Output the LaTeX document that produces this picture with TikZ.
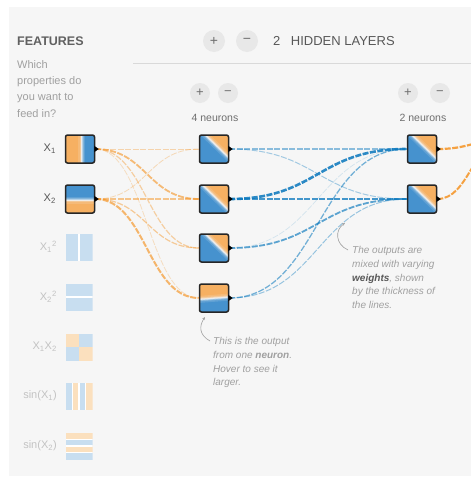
\documentclass[tikz,border=0pt]{standalone}
\usepackage{fontspec}
\setmainfont{Liberation Sans}
\usetikzlibrary{arrows.meta,calc}
\definecolor{pgO}{RGB}{246,176,98}
\definecolor{pgB}{RGB}{70,146,206}
\definecolor{pgW}{RGB}{242,244,246}
\definecolor{lO}{RGB}{251,224,190}
\definecolor{lB}{RGB}{200,222,240}
\definecolor{linkO}{RGB}{245,147,34}
\definecolor{linkB}{RGB}{8,119,189}
\definecolor{panel}{RGB}{246,246,246}
\definecolor{txtdark}{RGB}{88,88,88}
\definecolor{txtmid}{RGB}{110,110,110}
\definecolor{txtlight}{RGB}{160,160,160}
\definecolor{txtfade}{RGB}{195,195,195}
\definecolor{btngray}{RGB}{232,232,232}
\newcommand\pgcorners{\path (path picture bounding box.north west) coordinate (pNW)
  (path picture bounding box.north east) coordinate (pNE)
  (path picture bounding box.south west) coordinate (pSW)
  (path picture bounding box.south east) coordinate (pSE);}
\newcommand\softband{\foreach \w/\o in {7/.15,4/.25,2.2/.45,1/.75}{%
  \draw[pgW, line width=\w pt, opacity=\o] ($(sa)!-0.6!(sb)$) -- ($(sb)!-0.6!(sa)$);}}
\begin{document}
\begin{tikzpicture}[x=1pt,y=-1pt,
  nbox/.style={draw=black!85, line width=1.5pt, rounded corners=2pt, minimum width=29pt, minimum height=28pt, inner sep=0pt},
  fbox/.style={minimum width=27pt, minimum height=27pt, inner sep=0pt},
  colsplit/.style={path picture={\pgcorners
     \fill[pgO] (pSW) rectangle (pNE);
     \coordinate (sa) at ($(pSW)!#1!(pSE)$); \coordinate (sb) at ($(pNW)!#1!(pNE)$);
     \fill[pgB] (sa) rectangle (pNE); \softband}},
  rowsplit/.style={path picture={\pgcorners
     \fill[pgO] (pSW) rectangle (pNE);
     \coordinate (sa) at ($(pNW)!#1!(pSW)$); \coordinate (sb) at ($(pNE)!#1!(pSE)$);
     \fill[pgB] (pNW) rectangle (sb); \softband}},
  diagsplit/.style 2 args={path picture={\pgcorners
     \fill[pgB] (pSW) rectangle (pNE);
     \coordinate (sa) at ($(pNW)!#1!(pNE)$); \coordinate (sb) at ($(pNE)!#2!(pSE)$);
     \fill[pgO] (sa) -- (pNE) -- (sb) -- cycle; \softband}},
  tbsplit/.style 2 args={path picture={\pgcorners
     \fill[pgB] (pSW) rectangle (pNE);
     \coordinate (sa) at ($(pNW)!#1!(pSW)$); \coordinate (sb) at ($(pNE)!#2!(pSE)$);
     \fill[pgO] (pNW) -- (pNE) -- (sb) -- (sa) -- cycle; \softband}},
  fcol/.style={path picture={\pgcorners
     \fill[lB] (pSW) rectangle (pNE);
     \draw[white, line width=2pt] ($(pSW)!.5!(pSE)$) -- ($(pNW)!.5!(pNE)$);}},
  frow/.style={path picture={\pgcorners
     \fill[lB] (pSW) rectangle (pNE);
     \draw[white, line width=2pt] ($(pSW)!.5!(pNW)$) -- ($(pSE)!.5!(pNE)$);}},
  fcheck/.style={path picture={\pgcorners
     \fill[lO] (pNW) rectangle (path picture bounding box.center);
     \fill[lB] (path picture bounding box.north) rectangle (path picture bounding box.east);
     \fill[lB] (path picture bounding box.west) rectangle (path picture bounding box.south);
     \fill[lO] (path picture bounding box.center) rectangle (pSE);}},
  fsinv/.style={path picture={\pgcorners
     \foreach \a/\b/\c in {0/.25/lB,.25/.5/lO,.5/.75/lB,.75/1/lO}
       {\fill[\c] ($(pSW)!\a!(pSE)$) rectangle ($(pNW)!\b!(pNE)$);}
     \foreach \a in {.25,.5,.75}
       {\draw[white, line width=1.2pt] ($(pSW)!\a!(pSE)$) -- ($(pNW)!\a!(pNE)$);}}},
  fsinh/.style={path picture={\pgcorners
     \foreach \a/\b/\c in {0/.25/lO,.25/.5/lB,.5/.75/lO,.75/1/lB}
       {\fill[\c] ($(pNW)!\a!(pSW)$) rectangle ($(pNE)!\b!(pSE)$);}
     \foreach \a in {.25,.5,.75}
       {\draw[white, line width=1.2pt] ($(pNW)!\a!(pSW)$) -- ($(pNE)!\a!(pSE)$);}}},
  lbl/.style={anchor=east, inner sep=0pt, text=txtdark, font=\fontsize{11}{13}\selectfont},
  flbl/.style={anchor=east, inner sep=0pt, text=txtfade, font=\fontsize{11}{13}\selectfont},
  btn/.style={circle, fill=btngray, minimum size=22pt, inner sep=0pt, text=txtmid, font=\fontsize{14}{14}\selectfont},
  sbtn/.style={circle, fill=btngray, minimum size=20pt, inner sep=0pt, text=txtmid, font=\fontsize{13}{13}\selectfont},
  olink/.style={draw=linkO, dash pattern=on 6pt off 1.5pt},
  blink/.style={draw=linkB, dash pattern=on 6pt off 1.5pt},
  note/.style={anchor=north west, align=left, inner sep=0pt, text=txtlight, font=\fontsize{10}{13.8}\selectfont\itshape},
  callout/.style={draw=txtlight, line width=0.6pt, -{Stealth[length=3pt,width=2.5pt]}}
]
\useasboundingbox (0,0) rectangle (471,477);
\fill[white] (0,0) rectangle (471,477);
\fill[panel] (9,7) rectangle (471,476);

% header
\node[anchor=west, inner sep=0pt, text=black!62, font=\fontsize{12.5}{15}\selectfont\bfseries] (feat) at (17,41) {FEATURES};
\node[anchor=north west, align=left, inner sep=0pt, text=txtlight, font=\fontsize{11}{16.3}\selectfont] (which) at (17,60) {Which\\properties do\\you want to\\feed in?};
\draw[draw=black!15, line width=0.8pt] (133,63) -- (471,63);
\node[btn] (addlayer) at (214,41) {+};
\node[btn] (remlayer) at (247,41) {−};
\node[anchor=west, inner sep=0pt, text=txtdark, font=\fontsize{13}{15}\selectfont] (hidden) at (273,41) {2\hspace{10.5pt}HIDDEN LAYERS};
\node[sbtn] (addA) at (200,93) {+};
\node[sbtn] (remA) at (228,93) {−};
\node[sbtn] (addB) at (408,93) {+};
\node[sbtn] (remB) at (440,93) {−};
\node[inner sep=0pt, text=txtmid, font=\fontsize{10.5}{12}\selectfont] (cntA) at (215,118) {4 neurons};
\node[inner sep=0pt, text=txtmid, font=\fontsize{10.5}{12}\selectfont] (cntB) at (423,118) {2 neurons};

% input features
\node[nbox, colsplit=.56] (x1) at (80,149) {};
\node[nbox, rowsplit=.54] (x2) at (80,199) {};
\node[fbox, fcol] (x1s) at (79,247) {};
\node[fbox, frow] (x2s) at (79,297) {};
\node[fbox, fcheck] (x1x2) at (79,347) {};
\node[fbox, fsinv] (s1) at (79,396) {};
\node[fbox, fsinh] (s2) at (79,446) {};

\node[lbl] (lx1) at (56,149) {X\textsubscript{1}};
\node[lbl] (lx2) at (56,199) {X\textsubscript{2}};
\node[flbl] (lx1s) at (57,247) {X\textsubscript{1}\textsuperscript{2}};
\node[flbl] (lx2s) at (57,297) {X\textsubscript{2}\textsuperscript{2}};
\node[flbl] (lx1x2) at (57,347) {X\textsubscript{1}X\textsubscript{2}};
\node[flbl] (ls1) at (57,396) {sin(X\textsubscript{1})};
\node[flbl] (ls2) at (57,446) {sin(X\textsubscript{2})};

% hidden layer 1
\node[nbox, diagsplit={.2}{.8}] (n1) at (214,149) {};
\node[nbox, diagsplit={.1}{.9}] (n2) at (214,199) {};
\node[nbox, diagsplit={.2}{.8}] (n3) at (214,248) {};
\node[nbox, tbsplit={.55}{.47}] (n4) at (214,298) {};
% hidden layer 2
\node[nbox, diagsplit={.15}{.85}] (m1) at (422,149) {};
\node[nbox, diagsplit={.15}{.85}] (m2) at (422,199) {};
\coordinate (out) at (505,140);

% links input -> layer 1
\draw[olink, line width=1.0pt, opacity=.35] (x1.east) .. controls +(51,0) and +(-51,0) .. (n1.west);
\draw[olink, line width=1.8pt, opacity=.6] (x1.east) .. controls +(51,0) and +(-51,0) .. (n2.west);
\draw[olink, line width=1.2pt, opacity=.4] (x1.east) .. controls +(51,0) and +(-51,0) .. (n3.west);
\draw[olink, line width=0.8pt, opacity=.25] (x1.east) .. controls +(51,0) and +(-51,0) .. (n4.west);
\draw[olink, line width=0.8pt, opacity=.3] (x2.east) .. controls +(51,0) and +(-51,0) .. (n1.west);
\draw[olink, line width=1.4pt, opacity=.5] (x2.east) .. controls +(51,0) and +(-51,0) .. (n2.west);
\draw[olink, line width=1.2pt, opacity=.45] (x2.east) .. controls +(51,0) and +(-51,0) .. (n3.west);
\draw[olink, line width=2.0pt, opacity=.65] (x2.east) .. controls +(51,0) and +(-51,0) .. (n4.west);

% links layer 1 -> layer 2
\draw[blink, line width=1.4pt, opacity=.45] (n1.east) .. controls +(89,0) and +(-89,0) .. (m1.west);
\draw[blink, line width=1.0pt, opacity=.35] (n1.east) .. controls +(89,0) and +(-89,0) .. (m2.west);
\draw[blink, line width=2.6pt, opacity=.85] (n2.east) .. controls +(89,0) and +(-89,0) .. (m1.west);
\draw[blink, line width=2.4pt, opacity=.75] (n2.east) .. controls +(89,0) and +(-89,0) .. (m2.west);
\draw[blink, line width=0.7pt, opacity=.15] (n3.east) .. controls +(89,0) and +(-89,0) .. (m1.west);
\draw[blink, line width=1.8pt, opacity=.65] (n3.east) .. controls +(89,0) and +(-89,0) .. (m2.west);
\draw[blink, line width=1.3pt, opacity=.55] (n4.east) .. controls +(89,0) and +(-89,0) .. (m1.west);
\draw[blink, line width=1.0pt, opacity=.4] (n4.east) .. controls +(89,0) and +(-89,0) .. (m2.west);

% links layer 2 -> output
\draw[olink, line width=2.2pt, opacity=.85] (m1.east) .. controls +(32,0) and +(-32,0) .. (out);
\draw[olink, line width=2.0pt, opacity=.85] (m2.east) .. controls +(32,0) and +(-32,0) .. (out);

% output ports
\foreach \p in {x1,x2,n1,n2,n3,n4,m1,m2}
  \fill[black] (\p.east) ++(-1,-3.2) -- ++(4.5,3.2) -- ++(-4.5,3.2) -- cycle;

% callouts
\node[note] (note1) at (213,337) {This is the output\\from one \textbf{neuron}.\\Hover to see it\\larger.};
\coordinate (c1a) at (210,341);
\coordinate (c1b) at (205,317);
\draw[callout] (c1a) .. controls (199,335) and (199,326) .. (c1b);

\node[note] (note2) at (352,246) {The outputs are\\mixed with varying\\{\color{txtdark}\textbf{weights}}, shown\\by the thickness of\\the lines.};
\coordinate (c2a) at (348,250);
\coordinate (c2b) at (345,223);
\draw[callout] (c2a) .. controls (335,244) and (335,230) .. (c2b);
\end{tikzpicture}
\end{document}
